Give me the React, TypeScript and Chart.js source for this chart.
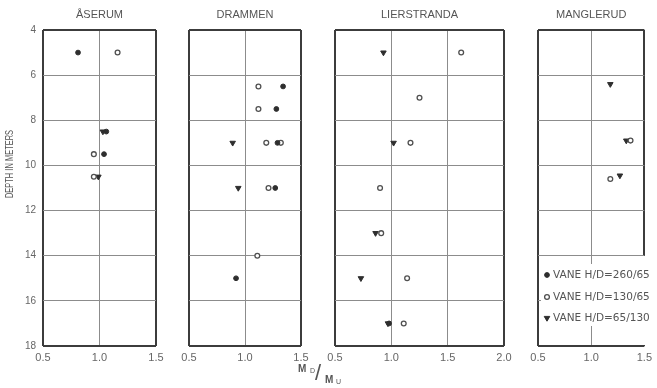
import React, { useEffect, useRef } from "react";
import { Chart, registerables } from "chart.js";

Chart.register(...registerables);

const W = 657;
const H = 388;
const FONT = "'Liberation Sans', Arial, sans-serif";
const LEGEND_FONT = "'DejaVu Sans', 'Liberation Sans', sans-serif";
const TEXT = "#555555";
const TICK = "#666666";
const INK = "#2e2e2e";
const FRAME = "#3c3c3c";
const GRID = "#8c8c8c";

Chart.defaults.font.family = FONT;

// ---- data ----
const stationNames = ["ÅSERUM", "DRAMMEN", "LIERSTRANDA", "MANGLERUD"];
const ratioMax = [1.5, 1.5, 2.0, 1.5];
const depthMin = 4;
const depthMax = 18;
const seriesLabels = ["VANE H/D=260/65", "VANE H/D=130/65", "VANE H/D=65/130"];

// ÅSERUM
const aserumVane260Depth = [5.0, 8.5, 9.5];
const aserumVane260Ratio = [0.81, 1.06, 1.04];
const aserumVane130Depth = [5.0, 9.5, 10.5];
const aserumVane130Ratio = [1.16, 0.95, 0.95];
const aserumVane65Depth = [8.5, 10.5];
const aserumVane65Ratio = [1.03, 0.99];

// DRAMMEN
const drammenVane260Depth = [6.5, 7.5, 9.0, 11.0, 15.0];
const drammenVane260Ratio = [1.34, 1.28, 1.29, 1.27, 0.92];
const drammenVane130Depth = [6.5, 7.5, 9.0, 9.0, 11.0, 14.0];
const drammenVane130Ratio = [1.12, 1.12, 1.19, 1.32, 1.21, 1.11];
const drammenVane65Depth = [9.0, 11.0];
const drammenVane65Ratio = [0.89, 0.94];

// LIERSTRANDA
const lierVane260Depth = [17.0];
const lierVane260Ratio = [0.98];
const lierVane130Depth = [5.0, 7.0, 9.0, 11.0, 13.0, 15.0, 17.0];
const lierVane130Ratio = [1.62, 1.25, 1.17, 0.9, 0.91, 1.14, 1.11];
const lierVane65Depth = [5.0, 9.0, 13.0, 15.0, 17.0];
const lierVane65Ratio = [0.93, 1.02, 0.86, 0.73, 0.97];

// MANGLERUD
const manglerudVane260Depth: number[] = [];
const manglerudVane260Ratio: number[] = [];
const manglerudVane130Depth = [8.9, 10.6];
const manglerudVane130Ratio = [1.37, 1.18];
const manglerudVane65Depth = [6.4, 8.9, 10.45];
const manglerudVane65Ratio = [1.18, 1.33, 1.27];

const stationSeries: number[][][][] = [
  [
    [aserumVane260Depth, aserumVane260Ratio],
    [aserumVane130Depth, aserumVane130Ratio],
    [aserumVane65Depth, aserumVane65Ratio],
  ],
  [
    [drammenVane260Depth, drammenVane260Ratio],
    [drammenVane130Depth, drammenVane130Ratio],
    [drammenVane65Depth, drammenVane65Ratio],
  ],
  [
    [lierVane260Depth, lierVane260Ratio],
    [lierVane130Depth, lierVane130Ratio],
    [lierVane65Depth, lierVane65Ratio],
  ],
  [
    [manglerudVane260Depth, manglerudVane260Ratio],
    [manglerudVane130Depth, manglerudVane130Ratio],
    [manglerudVane65Depth, manglerudVane65Ratio],
  ],
];

// ---- styles / layout ----
const seriesStyles = [
  { pointStyle: "circle", radius: 2.4, bg: INK, border: INK, bw: 1, rot: 0 },
  { pointStyle: "circle", radius: 2.4, bg: "#ffffff", border: "#505050", bw: 1.3, rot: 0 },
  { pointStyle: "triangle", radius: 3.2, bg: INK, border: INK, bw: 1, rot: 180 },
];

const panelEdges = [
  [43, 156],
  [189, 301],
  [335, 504],
  [538, 649],
];
const PLOT_BOTTOM = 346;

function drawMarker(ctx: CanvasRenderingContext2D, k: number, x: number, y: number) {
  const s = seriesStyles[k];
  ctx.save();
  ctx.fillStyle = s.bg;
  ctx.strokeStyle = s.border;
  ctx.lineWidth = s.bw;
  ctx.beginPath();
  if (s.pointStyle === "triangle") {
    const r = s.radius;
    ctx.moveTo(x, y + r);
    ctx.lineTo(x - r * 0.866, y - r * 0.5);
    ctx.lineTo(x + r * 0.866, y - r * 0.5);
    ctx.closePath();
  } else {
    ctx.arc(x, y, s.radius, 0, Math.PI * 2);
  }
  ctx.fill();
  ctx.stroke();
  ctx.restore();
}

const overlayPlugin = {
  id: "overlay",
  afterDraw(chart: any, _args: any, opts: any) {
    const ctx: CanvasRenderingContext2D = chart.ctx;
    const area = chart.chartArea;
    ctx.save();
    ctx.fillStyle = TEXT;
    if (opts.kind === 0) {
      ctx.translate(area.left - 33, (area.top + area.bottom) / 2 - 24);
      ctx.rotate(-Math.PI / 2);
      ctx.scale(0.68, 1);
      ctx.font = `11px ${FONT}`;
      ctx.textAlign = "center";
      ctx.textBaseline = "middle";
      ctx.fillText("DEPTH IN METERS", 0, 0);
    } else if (opts.kind === 1) {
      ctx.textAlign = "left";
      ctx.textBaseline = "middle";
      ctx.font = `bold 10px ${FONT}`;
      ctx.fillText("M", 298, 369);
      ctx.font = `7px ${FONT}`;
      ctx.fillText("D", 310, 371);
      ctx.font = `22px ${FONT}`;
      ctx.fillText("/", 315, 374);
      ctx.font = `bold 10px ${FONT}`;
      ctx.fillText("M", 325, 380);
      ctx.font = `7px ${FONT}`;
      ctx.fillText("U", 336, 382);
    } else if (opts.kind === 3) {
      ctx.fillStyle = "#ffffff";
      ctx.fillRect(area.left + 3, area.bottom - 82, W - area.left - 3, 62);
      ctx.fillRect(area.right - 3, area.bottom - 90, W - area.right + 3, 89);
      const rows = [275, 297, 318];
      ctx.font = `10.5px ${LEGEND_FONT}`;
      ctx.textAlign = "left";
      ctx.textBaseline = "middle";
      chart.data.datasets.forEach((ds: any, k: number) => {
        drawMarker(ctx, k, area.left + 9, rows[k]);
        ctx.fillStyle = TEXT;
        ctx.fillText(ds.label, area.left + 15, rows[k]);
      });
    }
    ctx.restore();
  },
};

function buildConfig(i: number): any {
  const [left, right] = panelEdges[i];
  const first = i === 0;
  const isEdge = (c: any) => c.index === 0 || c.index === c.scale.ticks.length - 1;
  const gridOpts = {
    color: (c: any) => (isEdge(c) ? FRAME : GRID),
    lineWidth: (c: any) => (isEdge(c) ? 2 : 1),
    drawTicks: false,
  };
  return {
    type: "scatter",
    data: {
      datasets: stationSeries[i].map(([depths, ratios], k) => ({
        label: seriesLabels[k],
        data: depths.map((d, j) => ({ x: ratios[j], y: d })),
        pointStyle: seriesStyles[k].pointStyle,
        pointRotation: seriesStyles[k].rot,
        pointRadius: seriesStyles[k].radius,
        pointBackgroundColor: seriesStyles[k].bg,
        pointBorderColor: seriesStyles[k].border,
        pointBorderWidth: seriesStyles[k].bw,
        showLine: false,
      })),
    },
    options: {
      responsive: false,
      animation: false,
      devicePixelRatio: 1,
      events: [],
      layout: { padding: { left: first ? 0 : left, right: W - right, top: 0, bottom: 0 } },
      scales: {
        x: {
          type: "linear",
          position: "bottom",
          min: 0.5,
          max: ratioMax[i],
          ticks: {
            stepSize: 0.5,
            callback: (v: any) => Number(v).toFixed(1),
            font: { size: 11 },
            color: TICK,
            padding: 5,
            maxRotation: 0,
            autoSkip: false,
          },
          grid: gridOpts,
          border: { display: false },
          afterFit: (s: any) => {
            s.height = H - PLOT_BOTTOM;
          },
        },
        y: {
          type: "linear",
          reverse: true,
          min: depthMin,
          max: depthMax,
          ticks: { display: first, stepSize: 2, font: { size: 10 }, color: TICK, padding: 7 },
          grid: gridOpts,
          border: { display: false },
          afterFit: (s: any) => {
            s.width = first ? left : 0;
          },
        },
      },
      plugins: {
        legend: { display: false },
        tooltip: { enabled: false },
        title: {
          display: true,
          text: stationNames[i],
          fullSize: false,
          color: TEXT,
          font: { size: 11, weight: "normal", lineHeight: 1.2 },
          padding: { top: 8, bottom: 8.8 },
        },
        overlay: { kind: i },
      },
    },
    plugins: [overlayPlugin],
  };
}

function Panel({ index }: { index: number }) {
  const ref = useRef<HTMLCanvasElement>(null);
  useEffect(() => {
    const chart = new Chart(ref.current as HTMLCanvasElement, buildConfig(index));
    return () => chart.destroy();
  }, [index]);
  return (
    <canvas
      ref={ref}
      width={W}
      height={H}
      style={{ position: "absolute", left: 0, top: 0, width: W, height: H }}
    />
  );
}

export default function App() {
  return (
    <div style={{ position: "fixed", left: 0, top: 0, width: W, height: H, background: "#ffffff" }}>
      {stationNames.map((_, i) => (
        <Panel key={i} index={i} />
      ))}
    </div>
  );
}
